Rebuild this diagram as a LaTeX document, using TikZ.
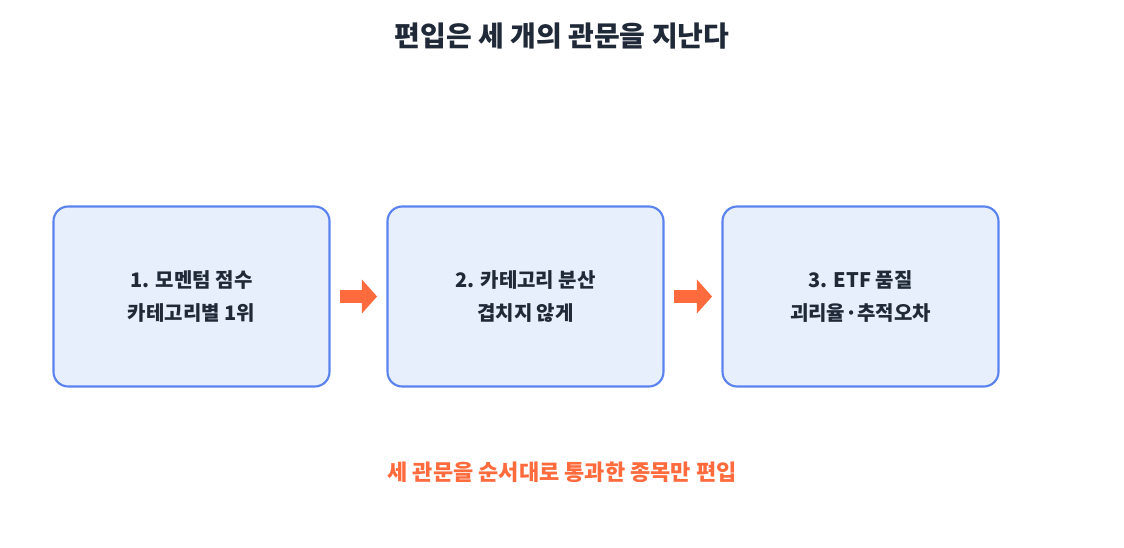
\documentclass[tikz,border=0pt]{standalone}
\usepackage{fontspec}
\setmainfont{Noto Sans CJK KR}
\usetikzlibrary{arrows.meta}
\definecolor{gateblue}{HTML}{5B83F0}
\definecolor{gatefill}{HTML}{E8EFFC}
\definecolor{gateorange}{HTML}{FF6B3D}
\definecolor{titlegray}{HTML}{1F2937}

\begin{document}
\begin{tikzpicture}[x=0.75pt,y=-0.75pt]
    % Define styles
    \tikzstyle{gate} = [draw=gateblue, line width=1.6pt, fill=gatefill, rounded corners=11pt, minimum width=207pt, minimum height=135pt, align=center, font=\bfseries\fontsize{15}{25}\selectfont, text=titlegray]
    \tikzstyle{passarrow} = [gateorange, line width=9.75pt, -{Triangle[length=11.5pt,width=25pt]}, shorten <=7pt, shorten >=7pt]
    \useasboundingbox (0,0) rectangle (1124,548);

    % Title
    \node (title) at (562,36) {\bfseries\fontsize{21}{25}\selectfont\color{titlegray}편입은 세 개의 관문을 지난다};

    % Gates
    \node (g1) [gate] at (191.5,296.5) {1. 모멘텀 점수\\카테고리별 1위};
    \node (g2) [gate] at (525.5,296.5) {2. 카테고리 분산\\겹치지 않게};
    \node (g3) [gate] at (860.5,296.5) {3. ETF 품질\\괴리율·추적오차};

    % Arrows between gates
    \draw [passarrow] (g1) -- (g2);
    \draw [passarrow] (g2) -- (g3);

    % Footer
    \node (note) at (562,472) {\bfseries\fontsize{16.5}{20}\selectfont\color{gateorange}세 관문을 순서대로 통과한 종목만 편입};
\end{tikzpicture}
\end{document}
